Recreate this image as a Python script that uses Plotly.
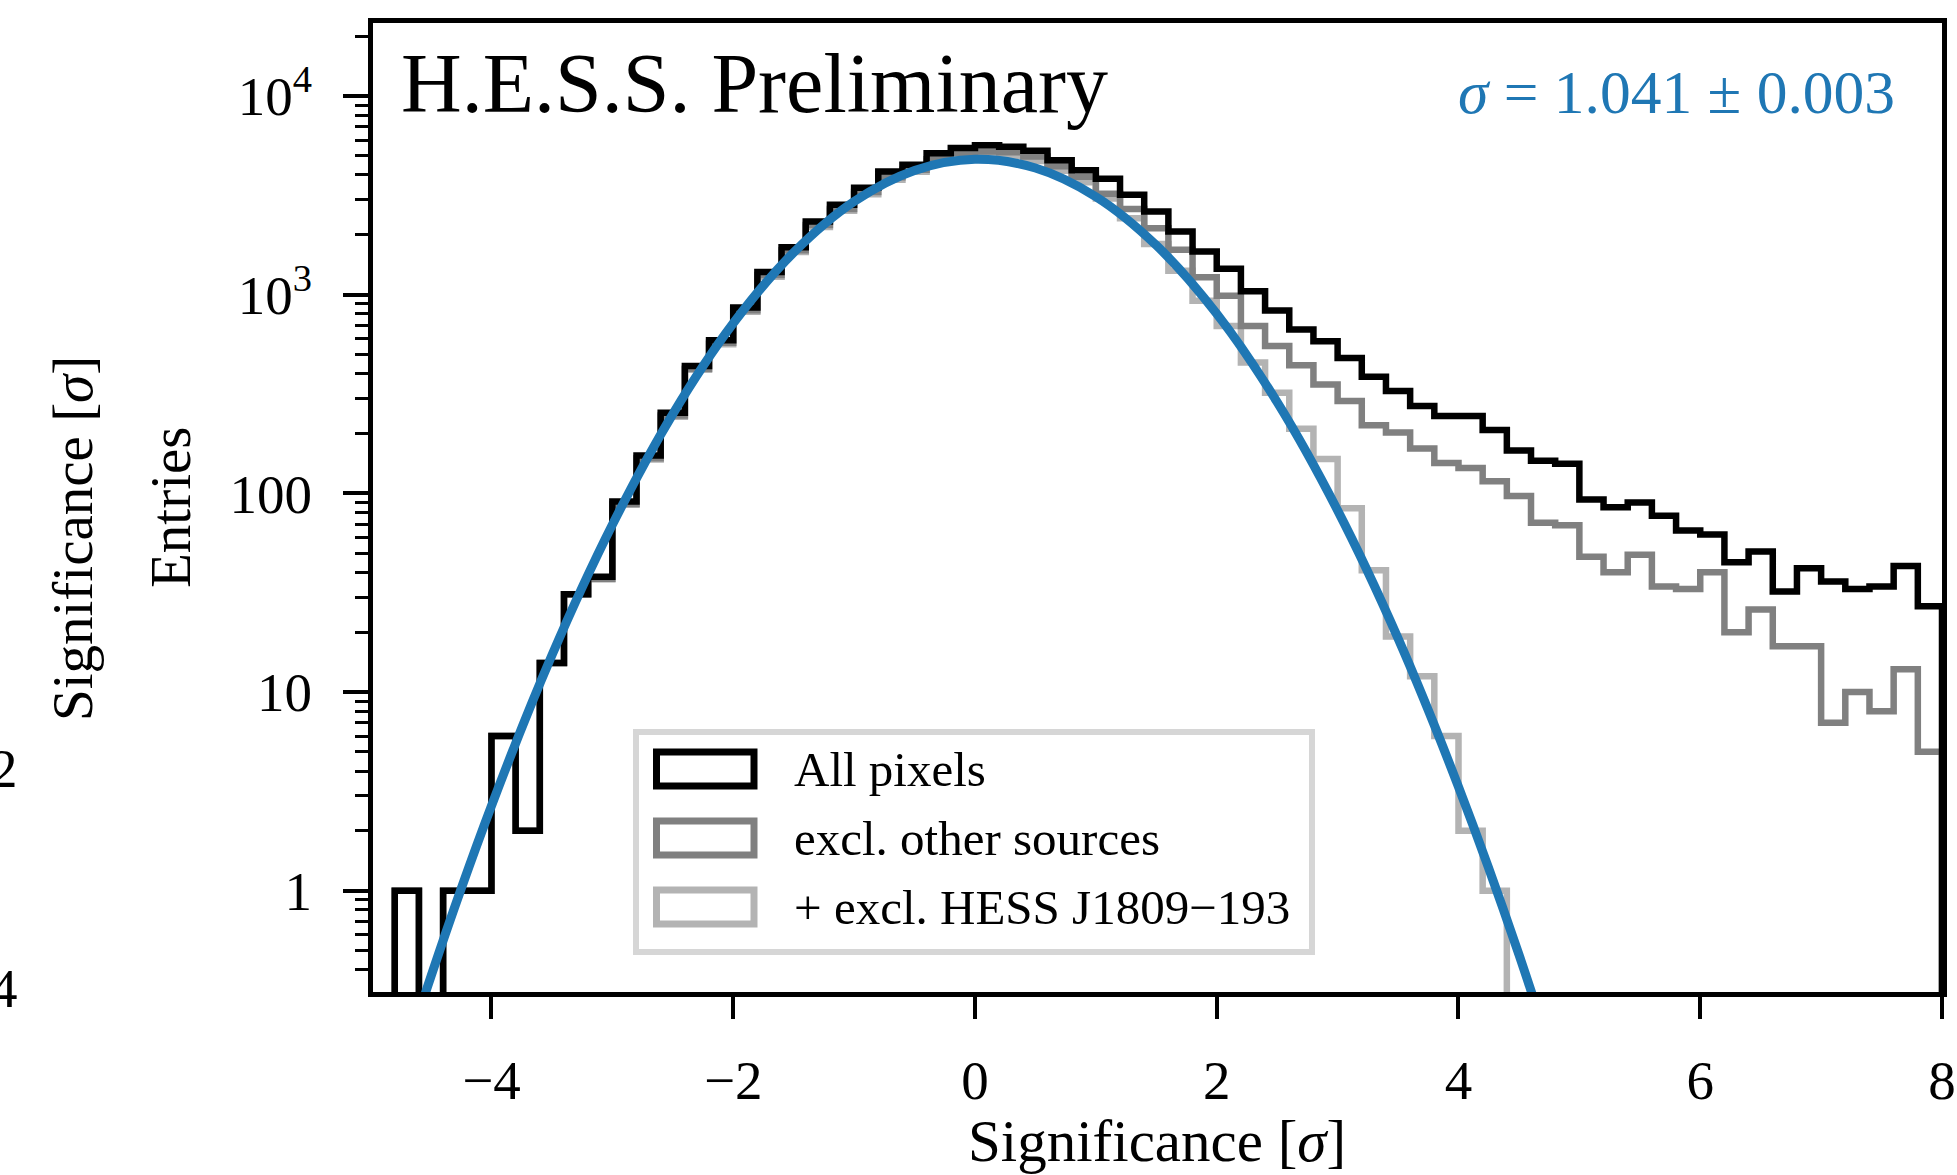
import plotly.graph_objects as go

# ---------------- data ----------------
BIN_START = -5.0
BIN_WIDTH = 0.2
N_BINS = 65

all_pixels = [0, 1, 0, 1, 1, 6, 2, 14, 31, 38,
              91, 155, 254, 437, 590, 860, 1300, 1730, 2330, 2830,
              3450, 4160, 4510, 5140, 5470, 5640, 5550, 5300, 4740, 4220,
              3830, 3180, 2620, 2075, 1650, 1350, 1040, 832, 667, 582,
              480, 386, 327, 275, 245, 245, 208, 164, 146, 141,
              93, 85, 90, 77, 65, 62, 45, 51, 32, 42,
              36, 33, 34, 43, 27]

excl_other = [0, 1, 0, 1, 1, 6, 2, 14, 31, 37,
              88, 150, 246, 424, 572, 834, 1255, 1670, 2240, 2700,
              3280, 3900, 4250, 4800, 5150, 5250, 5200, 4950, 4420, 3920,
              3220, 2700, 2160, 1683, 1222, 986, 696, 552, 441, 353,
              291, 220, 202, 168, 142, 134, 115, 97, 71, 69,
              48, 40, 49, 34, 33, 40, 20, 26, 17, 17,
              7, 10, 8, 13, 5]

excl_j1809 = [0, 1, 0, 1, 1, 6, 2, 14, 31, 37,
              88, 148, 243, 418, 563, 820, 1230, 1640, 2190, 2640,
              3200, 3780, 4150, 4700, 5000, 5050, 5000, 4700, 4200, 3680,
              3050, 2420, 1800, 1320, 930, 696, 455, 321, 211, 149,
              84, 41, 19, 12, 6, 2, 1, 0, 0, 0,
              0, 0, 0, 0, 0, 0, 0, 0, 0, 0,
              0, 0, 0, 0, 0]

# Gaussian fit curve
fit_x = [-5.0, -4.5, -4.0, -3.5, -3.0, -2.5, -2.0, -1.5, -1.0, -0.5, 0.0,
         0.5, 1.0, 1.5, 2.0, 2.5, 3.0, 3.5, 4.0, 4.5, 5.0]
fit_y = [0.041, 0.371, 2.67, 15.3, 69.4, 250.5, 717, 1630, 2942, 4216, 4798,
         4335, 3110, 1771, 801, 287.5, 82.0, 18.6, 3.33, 0.477, 0.054]

series_names = ["All pixels", "excl. other sources", "+ excl. HESS J1809\u2212193"]
series_colors = ["#000000", "#808080", "#b3b3b3"]

x_tickvals = [-4, -2, 0, 2, 4, 6, 8]
x_ticktext = ["\u22124", "\u22122", "0", "2", "4", "6", "8"]
y_tickvals = [1, 10, 100, 1000, 10000]
y_ticktext = ["1", "10", "100", "10<sup>3</sup>", "10<sup>4</sup>"]

fit_label = "<i>\u03c3</i> = 1.041 \u00b1 0.003"

# ---------------- helpers ----------------
FLOOR = 0.01  # zero-count bins drawn below the visible range
edges = [round(BIN_START + BIN_WIDTH * i, 4) for i in range(N_BINS + 1)]


def step_xy(vals):
    ys = [v if v > 0 else FLOOR for v in vals]
    x = [edges[0]] + edges[:-1] + [edges[-1], edges[-1]]
    y = [FLOOR] + ys + [ys[-1], FLOOR]
    return x, y


# plot-area geometry in pixels (for placing annotations / legend)
W, H = 1957, 1175
ML, MR, MT, MB = 373, 15, 23, 183
PW = W - ML - MR
PH = H - MT - MB


def PX(px):
    return (px - ML) / PW


def PY(py):
    return (H - MB - py) / PH


FONT = "Liberation Serif"

fig = go.Figure()

# draw light gray first, black on top
for vals, name, col in reversed(list(zip([all_pixels, excl_other, excl_j1809],
                                         series_names, series_colors))):
    sx, sy = step_xy(vals)
    fig.add_trace(go.Scatter(x=sx, y=sy, mode="lines", name=name,
                             line=dict(color=col, width=6.5, shape="hv"),
                             showlegend=False, hoverinfo="skip"))

fig.add_trace(go.Scatter(x=fit_x, y=fit_y, mode="lines", name="fit",
                         line=dict(color="#1f77b4", width=9, shape="spline"),
                         showlegend=False, hoverinfo="skip"))

minor_vals = []
for dec in [0.1, 1, 10, 100, 1000, 10000]:
    for m in range(2, 10):
        v = m * dec
        if 0.3 <= v <= 24000:
            minor_vals.append(v)

axis_common = dict(showline=True, linewidth=5, linecolor="black", mirror=True,
                   ticks="outside", tickcolor="black", tickwidth=4,
                   showgrid=False, zeroline=False, automargin=False,
                   tickfont=dict(family=FONT, size=55, color="black"))

fig.update_layout(
    width=W, height=H,
    margin=dict(l=ML, r=MR, t=MT, b=MB, pad=0, autoexpand=False),
    plot_bgcolor="white", paper_bgcolor="white",
    showlegend=False,
    font=dict(family=FONT, color="black"),
    xaxis=dict(range=[-4.98, 8.0], tickmode="array", tickvals=x_tickvals,
               ticktext=x_ticktext, ticklen=22, ticklabelstandoff=14,
               **axis_common),
    yaxis=dict(type="log", range=[-0.510, 4.367], tickmode="array",
               tickvals=y_tickvals, ticktext=y_ticktext, ticklen=25,
               ticklabelstandoff=20,
               minor=dict(tickmode="array", tickvals=minor_vals, ticks="outside",
                          ticklen=13, tickwidth=3, tickcolor="black", showgrid=False),
               **axis_common),
)

annotations = [
    dict(text="H.E.S.S. Preliminary", x=PX(399), y=PY(84), xanchor="left",
         yanchor="middle", font=dict(family=FONT, size=84, color="black")),
    dict(text=fit_label, x=PX(1897), y=PY(92), xanchor="right", yanchor="middle",
         font=dict(family=FONT, size=61.5, color="#1f77b4")),
    dict(text="Significance [<i>\u03c3</i>]", x=PX(1157), y=PY(1141),
         xanchor="center", yanchor="middle",
         font=dict(family=FONT, size=59, color="black")),
    dict(text="Entries", x=PX(170), y=PY(508), xanchor="center", yanchor="middle",
         textangle=-90, font=dict(family=FONT, size=57, color="black")),
    # cut-off labels of a neighbouring panel at the far left
    dict(text="Significance [<i>\u03c3</i>]", x=PX(73), y=PY(539), xanchor="center",
         yanchor="middle", textangle=-90,
         font=dict(family=FONT, size=57, color="black")),
    dict(text="2", x=PX(20), y=PY(768), xanchor="right", yanchor="middle",
         font=dict(family=FONT, size=55, color="black")),
    dict(text="4", x=PX(20), y=PY(988), xanchor="right", yanchor="middle",
         font=dict(family=FONT, size=55, color="black")),
]

# custom legend (rectangular patches like the reference)
shapes = [dict(type="rect", xref="paper", yref="paper",
               x0=PX(636), x1=PX(1312), y0=PY(952), y1=PY(732),
               line=dict(color="#d6d6d6", width=6), fillcolor="white",
               layer="above")]
row_centers = [769, 838, 907]
for name, col, yc in zip(series_names, series_colors, row_centers):
    shapes.append(dict(type="rect", xref="paper", yref="paper",
                       x0=PX(656.5), x1=PX(754), y0=PY(yc + 17), y1=PY(yc - 17),
                       line=dict(color=col, width=7), fillcolor="white",
                       layer="above"))
    annotations.append(dict(text=name, x=PX(792), y=PY(yc), xanchor="left",
                            yanchor="middle",
                            font=dict(family=FONT, size=49, color="black")))

for a in annotations:
    a.update(xref="paper", yref="paper", showarrow=False)

fig.update_layout(annotations=annotations, shapes=shapes)

fig.write_html("out.html")
